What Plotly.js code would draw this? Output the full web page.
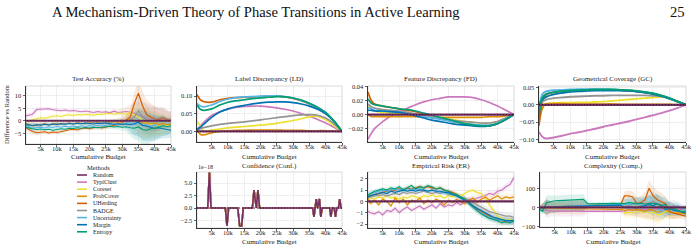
<!DOCTYPE html>
<html>
<head>
<meta charset="utf-8">
<script src="https://cdn.plot.ly/plotly-3.0.1.min.js"></script>
<style>
  html, body { margin: 0; padding: 0; background: #fff; }
  #chart { width: 699px; height: 250px; }
</style>
</head>
<body>
<div id="chart"></div>
<script>
// ---- methods and palette ----
const methods = ['Random', 'TypiClust', 'Coreset', 'ProbCover', 'UHerding', 'BADGE', 'Uncertainty', 'Margin', 'Entropy'];
const methodColors = ['#72305f', '#CC78BC', '#ECE133', '#DE8F05', '#D55E00', '#949494', '#56B4E9', '#0173B2', '#029E73'];

// ---- x grids (cumulative budget) ----
const budgetFine = [0, 1250, 2500, 3750, 5000, 6250, 7500, 8750, 10000, 11250, 12500, 13750, 15000, 16250, 17500, 18750, 20000, 21250, 22500, 23750, 25000, 26250, 27500, 28750, 30000, 31250, 32500, 33750, 35000, 36250, 37500, 38750, 40000, 41250, 42500, 43750, 45000];
const budgetSmooth = [500, 1500, 2500, 5000, 7500, 10000, 12500, 15000, 17500, 20000, 22500, 25000, 27500, 30000, 32500, 35000, 37500, 40000, 42500, 45000];
const budgetTicks = [5000, 10000, 15000, 20000, 25000, 30000, 35000, 40000, 45000];
const budgetTickText = ['5k', '10k', '15k', '20k', '25k', '30k', '35k', '40k', '45k'];

// ---- Test Accuracy (%), difference vs Random ----
const accTypiClust = [1.8, 2.2, 2.6, 4.5, 4.6, 5.0, 4.8, 4.4, 4.2, 4.0, 4.3, 3.9, 4.1, 3.8, 3.6, 3.9, 3.5, 3.3, 3.7, 3.4, 3.6, 3.2, 3.8, 3.3, 3.5, 3.7, 3.4, 3.0, 2.2, 1.6, 1.2, 0.8, 1.0, 0.4, 0.9, 0.5, 0.7];
const accCoreset = [-0.5, 0.0, 0.3, 0.8, 1.2, 1.0, 1.5, 1.8, 2.0, 1.7, 2.2, 2.4, 2.1, 2.5, 2.3, 2.6, 2.4, 2.2, 2.7, 2.5, 2.8, 3.0, 2.6, 3.1, 2.9, 2.7, 3.2, 2.5, 1.5, 0.2, -1.0, -1.5, -2.0, -1.6, -2.2, -1.8, -2.0];
const accProbCover = [-1.0, -1.5, -2.0, -1.8, -1.5, -1.2, -1.6, -1.3, -1.0, -1.4, -1.1, -0.9, -1.2, -0.8, -1.0, -1.3, -0.7, -0.9, -0.6, -0.8, -0.5, -0.7, -0.4, -0.6, -0.2, 0.3, 0.6, 0.2, -0.5, -1.0, -0.8, -1.2, -0.9, -1.5, -1.1, -1.6, -1.3];
const accUHerding = [-2.5, -3.5, -4.3, -4.8, -4.6, -4.4, -4.9, -4.5, -4.7, -4.2, -4.0, -3.6, -3.4, -3.7, -3.1, -2.9, -3.2, -2.8, -2.6, -2.9, -2.5, -2.2, -2.0, -1.5, -0.8, 0.2, 1.5, 7.0, 11.0, 6.0, 2.5, 1.5, 0.8, 0.5, 1.0, 0.6, 0.4];
const accBADGE = [-1.5, -2.0, -1.8, -1.5, -1.7, -1.3, -1.6, -1.2, -1.4, -1.1, -1.3, -1.0, -1.2, -0.9, -1.1, -0.8, -1.0, -0.7, -0.9, -0.6, -0.8, -0.5, -0.3, 0.0, 0.3, -0.5, 0.5, 1.5, 4.0, 1.5, 0.5, -0.2, 0.5, 1.2, 1.6, 0.8, 0.2];
const accUncertainty = [-2.0, -2.5, -3.0, -2.8, -2.6, -2.9, -2.4, -2.7, -2.3, -2.6, -2.2, -2.5, -2.1, -2.4, -2.0, -2.3, -1.9, -2.2, -1.8, -2.1, -1.7, -1.5, -1.3, -1.6, -1.2, -1.0, -0.8, -1.5, -1.0, -2.0, -1.5, -2.2, -1.8, -2.4, -2.0, -2.5, -2.2];
const accMargin = [-1.2, -1.5, -1.9, -1.6, -1.8, -1.4, -1.7, -1.3, -1.5, -1.2, -1.4, -1.1, -1.3, -1.0, -1.2, -0.9, -1.1, -1.3, -1.0, -1.2, -0.9, -1.1, -1.4, -1.2, -1.5, -1.3, -1.6, -1.2, -0.5, -1.8, -2.2, -2.5, -3.0, -2.8, -3.3, -3.5, -3.8];
const accEntropy = [-2.5, -3.0, -3.2, -3.5, -3.3, -3.6, -3.4, -3.8, -3.5, -3.2, -3.4, -3.0, -3.1, -2.8, -3.0, -2.7, -2.9, -2.6, -2.8, -2.5, -2.4, -2.2, -2.5, -2.3, -2.6, -2.4, -2.8, -3.0, -2.5, -3.5, -3.8, -3.2, -3.0, -2.5, -2.0, -2.3, -2.0];
const accSpread = [0.8, 1.0, 1.2, 1.0, 0.9, 0.8, 0.8, 0.7, 0.7, 0.7, 0.7, 0.7, 0.7, 0.7, 0.7, 0.7, 0.8, 0.8, 0.8, 0.8, 0.9, 0.9, 1.0, 1.2, 1.5, 2.0, 3.0, 4.5, 5.5, 6.0, 6.0, 5.5, 5.0, 4.5, 4.0, 3.5, 3.0];

// ---- Label Discrepancy (LD) ----
const ldTypiClust = [0.005, 0.015, 0.025, 0.045, 0.056, 0.063, 0.068, 0.071, 0.072, 0.072, 0.070, 0.067, 0.063, 0.058, 0.051, 0.043, 0.034, 0.024, 0.012, 0.0];
const ldCoreset = [0.030, 0.015, 0.0, 0.004, 0.007, 0.010, 0.012, 0.014, 0.016, 0.018, 0.020, 0.023, 0.027, 0.031, 0.036, 0.042, 0.043, 0.033, 0.017, 0.0];
const ldProbCover = [0.005, -0.008, -0.010, -0.004, 0.0, 0.002, 0.003, 0.003, 0.004, 0.004, 0.004, 0.004, 0.003, 0.003, 0.003, 0.002, 0.002, 0.002, 0.001, 0.0];
const ldUHerding = [0.105, 0.090, 0.085, 0.083, 0.090, 0.094, 0.096, 0.097, 0.098, 0.099, 0.100, 0.100, 0.098, 0.094, 0.087, 0.078, 0.067, 0.052, 0.030, 0.0];
const ldBADGE = [0.003, 0.008, 0.011, 0.016, 0.020, 0.023, 0.025, 0.027, 0.030, 0.033, 0.036, 0.039, 0.042, 0.045, 0.047, 0.048, 0.046, 0.038, 0.022, 0.0];
const ldUncertainty = [0.080, 0.072, 0.070, 0.075, 0.085, 0.092, 0.096, 0.098, 0.099, 0.100, 0.101, 0.101, 0.099, 0.095, 0.088, 0.079, 0.068, 0.053, 0.030, 0.0];
const ldMargin = [0.005, 0.012, 0.020, 0.040, 0.055, 0.064, 0.070, 0.074, 0.078, 0.081, 0.083, 0.084, 0.084, 0.082, 0.078, 0.072, 0.063, 0.050, 0.029, 0.0];
const ldEntropy = [0.075, 0.063, 0.060, 0.064, 0.075, 0.083, 0.087, 0.090, 0.093, 0.095, 0.097, 0.099, 0.098, 0.095, 0.089, 0.080, 0.069, 0.054, 0.030, 0.0];

// ---- Feature Discrepancy (FD) ----
const fdTypiClust = [-0.035, -0.027, -0.020, -0.010, -0.002, 0.004, 0.009, 0.014, 0.018, 0.021, 0.023, 0.025, 0.025, 0.025, 0.024, 0.021, 0.017, 0.012, 0.006, 0.0];
const fdCoreset = [0.012, 0.008, 0.005, 0.003, 0.002, 0.001, 0.0, -0.001, -0.003, -0.004, -0.005, -0.006, -0.008, -0.010, -0.011, -0.012, -0.012, -0.010, -0.005, 0.0];
const fdProbCover = [0.0, -0.003, -0.003, -0.003, -0.003, -0.003, -0.003, -0.003, -0.003, -0.004, -0.004, -0.004, -0.004, -0.004, -0.004, -0.004, -0.003, -0.003, -0.002, 0.0];
const fdUHerding = [0.032, 0.020, 0.015, 0.012, 0.010, 0.008, 0.006, 0.004, 0.001, -0.002, -0.005, -0.008, -0.011, -0.013, -0.015, -0.016, -0.016, -0.013, -0.007, 0.0];
const fdBADGE = [0.015, 0.011, 0.009, 0.007, 0.006, 0.005, 0.003, 0.001, -0.001, -0.003, -0.005, -0.007, -0.009, -0.010, -0.011, -0.012, -0.012, -0.010, -0.005, 0.0];
const fdUncertainty = [0.010, 0.008, 0.006, 0.005, 0.004, 0.003, 0.001, -0.001, -0.003, -0.005, -0.007, -0.009, -0.011, -0.013, -0.014, -0.015, -0.015, -0.012, -0.006, 0.0];
const fdMargin = [0.006, 0.006, 0.005, 0.005, 0.004, 0.003, 0.001, -0.002, -0.005, -0.008, -0.010, -0.012, -0.014, -0.015, -0.016, -0.017, -0.016, -0.013, -0.007, 0.0];
const fdEntropy = [0.022, 0.016, 0.014, 0.012, 0.010, 0.008, 0.007, 0.005, 0.002, -0.001, -0.004, -0.007, -0.010, -0.013, -0.015, -0.016, -0.016, -0.013, -0.007, 0.0];

// ---- Geometrical Coverage (GC) ----
const gcTypiClust = [-0.078, -0.092, -0.097, -0.094, -0.089, -0.083, -0.079, -0.074, -0.069, -0.063, -0.058, -0.053, -0.048, -0.042, -0.036, -0.030, -0.024, -0.017, -0.009, 0.0];
const gcCoreset = [-0.020, 0.0, 0.003, 0.005, 0.006, 0.006, 0.007, 0.007, 0.008, 0.009, 0.011, 0.013, 0.015, 0.017, 0.019, 0.021, 0.022, 0.019, 0.010, 0.0];
const gcProbCover = [-0.050, -0.010, 0.002, 0.003, 0.003, 0.002, 0.002, 0.002, 0.002, 0.002, 0.002, 0.001, 0.001, 0.001, 0.001, 0.001, 0.001, 0.001, 0.0, 0.0];
const gcUHerding = [-0.060, 0.010, 0.028, 0.036, 0.039, 0.041, 0.042, 0.043, 0.043, 0.043, 0.043, 0.042, 0.041, 0.039, 0.036, 0.032, 0.026, 0.018, 0.009, 0.0];
const gcBADGE = [-0.020, 0.008, 0.014, 0.019, 0.021, 0.023, 0.024, 0.025, 0.026, 0.026, 0.027, 0.027, 0.027, 0.027, 0.027, 0.026, 0.024, 0.018, 0.009, 0.0];
const gcUncertainty = [-0.010, 0.030, 0.038, 0.042, 0.043, 0.044, 0.045, 0.045, 0.045, 0.045, 0.044, 0.043, 0.041, 0.039, 0.036, 0.032, 0.026, 0.018, 0.009, 0.0];
const gcMargin = [0.0, 0.015, 0.022, 0.030, 0.034, 0.037, 0.039, 0.040, 0.041, 0.041, 0.041, 0.041, 0.040, 0.038, 0.035, 0.031, 0.025, 0.018, 0.009, 0.0];
const gcEntropy = [-0.030, 0.020, 0.030, 0.036, 0.039, 0.041, 0.042, 0.043, 0.044, 0.044, 0.044, 0.043, 0.042, 0.040, 0.037, 0.033, 0.027, 0.019, 0.009, 0.0];

// ---- Confidence (Conf.), in units of 1e-18; identical for every method ----
const confBudget = [500, 3800, 4300, 4800, 9200, 9700, 10200, 13000, 13600, 14200, 14700, 17500, 18000, 18500, 18700, 19200, 19700, 36000, 36400, 36750, 37100, 37500, 38100, 38500, 38900, 41200, 41600, 42000, 42600, 43000, 43400, 43900, 44300, 44700, 45000];
const confValue = [0, 0, 7.1, 0, 0, -3.6, 0, 0, -3.6, -3.6, 0, 0, 3.6, 0, 0, 3.6, 0, 0, -1.8, 0, 1.8, 0, 1.8, -1.8, 0, 0, -1.8, 0, 0, -1.8, 0, 0, 1.8, 0, 0];

// ---- Empirical Risk (ER) ----
const erTypiClust = [-0.8, -1.0, -1.1, -0.9, -1.2, -0.8, -0.9, -0.6, -1.0, -0.7, -0.5, -0.8, -0.6, -0.4, -0.7, -0.5, -0.3, -0.6, -0.2, -0.5, -0.3, -0.4, -0.1, -0.3, 0.0, 0.2, 0.1, 0.3, 0.4, 0.5, 0.7, 0.6, 0.9, 1.0, 1.3, 1.5, 2.1];
const erCoreset = [0.4, 0.3, 0.2, 0.4, 0.3, 0.5, 0.3, 0.4, 0.2, 0.4, 0.3, 0.5, 0.4, 0.3, 0.5, 0.4, 0.6, 0.4, 0.5, 0.3, 0.5, 0.4, 0.6, 0.5, 0.7, 0.9, 1.0, 0.8, 0.7, 0.3, -0.3, -0.8, -1.3, -1.5, -1.7, -1.6, -1.8];
const erProbCover = [0.5, -0.2, 0.1, -0.3, 0.2, 0.0, -0.4, 0.3, -0.1, 0.2, -0.3, 0.1, 0.0, 0.3, -0.2, 0.1, -0.1, 0.2, 0.0, -0.3, 0.1, -0.1, 0.2, 0.0, -0.2, 0.1, 0.3, -0.1, 0.2, 0.4, 0.1, 0.3, 0.5, 0.2, 0.4, 0.3, 0.4];
const erUHerding = [0.3, 0.5, 0.6, 0.7, 0.8, 0.9, 1.0, 1.0, 1.1, 1.0, 1.2, 1.1, 1.2, 1.3, 1.2, 1.3, 1.2, 1.1, 1.2, 1.0, 0.9, 0.8, 0.6, 0.4, 0.2, -0.1, -0.4, -0.7, -0.9, -1.1, -1.3, -1.5, -1.6, -1.7, -1.8, -1.7, -1.8];
const erBADGE = [0.3, 0.4, 0.5, 0.5, 0.6, 0.5, 0.6, 0.7, 0.6, 0.8, 0.7, 0.8, 0.7, 0.8, 0.9, 0.8, 0.7, 0.8, 0.7, 0.8, 0.6, 0.6, 0.5, 0.4, 0.3, 0.1, -0.1, -0.3, -0.5, -0.7, -0.9, -1.0, -1.1, -1.2, -1.3, -1.3, -1.4];
const erUncertainty = [0.5, 0.7, 0.8, 0.9, 1.0, 0.9, 1.0, 1.1, 1.0, 1.1, 1.0, 1.1, 1.0, 1.1, 1.0, 0.9, 1.0, 0.9, 0.8, 0.8, 0.7, 0.6, 0.5, 0.3, 0.1, -0.2, -0.5, -0.8, -1.0, -1.2, -1.4, -1.5, -1.6, -1.7, -1.7, -1.8, -1.8];
const erMargin = [0.3, 0.5, 0.6, 0.7, 0.8, 0.7, 0.9, 0.8, 0.9, 1.0, 0.9, 1.0, 0.9, 1.0, 1.0, 0.9, 1.0, 0.9, 0.9, 0.8, 0.8, 0.6, 0.5, 0.3, 0.1, -0.1, -0.4, -0.6, -0.8, -1.0, -1.2, -1.4, -1.5, -1.6, -1.7, -1.7, -1.7];
const erEntropy = [0.4, 0.7, 0.9, 1.0, 1.1, 1.0, 1.2, 1.1, 1.3, 1.0, 1.2, 1.4, 1.1, 1.3, 1.2, 1.4, 1.3, 1.1, 1.2, 1.0, 0.9, 0.7, 0.6, 0.4, 0.2, -0.2, -0.5, -0.8, -1.1, -1.3, -1.5, -1.6, -1.7, -1.9, -1.8, -1.9, -1.7];
const erSpread = [0.3, 0.25, 0.2, 0.2, 0.2, 0.2, 0.2, 0.2, 0.2, 0.2, 0.2, 0.2, 0.2, 0.2, 0.2, 0.2, 0.2, 0.2, 0.2, 0.2, 0.2, 0.2, 0.2, 0.2, 0.25, 0.25, 0.3, 0.3, 0.3, 0.3, 0.3, 0.3, 0.3, 0.3, 0.3, 0.3, 0.3];

// ---- Complexity (Comp.) ----
const compTypiClust = [0, 5, -15, -18, -20, -18, -20, -19, -20, -18, -20, -19, -20, -18, -19, -20, -18, -19, -20, -18, -19, -20, -10, -12, -15, -12, -10, -15, -12, -8, -10, -12, -8, -10, -12, -10, -8];
const compCoreset = [0, 0, 2, 3, 4, 5, 6, 7, 8, 9, 10, 11, 12, 12, 13, 13, 14, 14, 15, 15, 16, -30, -25, -28, -20, -25, -22, -30, -25, -40, -35, -20, -25, -30, -28, -30, -30];
const compProbCover = [0, 0, -2, -3, -4, -5, -5, -6, -6, -7, -7, -8, -8, -8, -9, -9, -9, -10, -10, -10, -10, -15, -12, -15, -10, -15, -20, -10, -15, -25, -20, -15, -25, -30, -28, -30, -32];
const compUHerding = [0, 0, 5, 3, 2, 4, 5, 6, 8, 8, 9, 10, 10, 10, 11, 11, 12, 12, 13, 13, 12, 60, 60, 55, 20, 25, 40, 100, 60, 40, 30, 20, -20, -30, -35, -40, -45];
const compBADGE = [0, 0, 2, 3, 4, 4, 5, 5, 6, 6, 7, 7, 8, 8, 9, 9, 10, 10, 11, 11, 12, 15, 10, 15, 20, 10, 15, 25, 30, 20, 15, 5, 0, 10, 0, -5, -10];
const compUncertainty = [0, 0, 2, 3, 4, 5, 6, 7, 8, 9, 10, 11, 12, 12, 13, 13, 14, 14, 15, 15, 16, 18, 15, 20, 18, 15, 10, 20, 5, 0, -20, -10, 0, -5, 10, -5, -10];
const compMargin = [0, -2, 0, 2, 3, 4, 5, 6, 6, 7, 8, 8, 9, 9, 10, 10, 10, 11, 11, 12, 12, 0, 2, 0, -2, 5, 10, 15, 10, 20, 5, -10, -5, -15, -20, -25, -30];
const compEntropy = [-5, -20, 25, 32, 35, 36, 37, 38, 38, 39, 40, 42, 20, 18, 19, 20, 19, 20, 21, 20, 21, 20, 25, 22, 20, 22, 18, 20, 22, 18, 10, 15, -10, -5, -15, -20, -20];
const compSpread = [5, 20, 40, 30, 28, 28, 28, 28, 28, 28, 28, 28, 10, 10, 10, 10, 10, 10, 10, 10, 10, 25, 30, 30, 35, 35, 40, 45, 50, 50, 45, 40, 35, 30, 25, 20, 20];

// ---- drawing helpers ----
const SERIF = 'Liberation Serif, DejaVu Serif, serif';
const W = 699, H = 250;
const px = v => v / W;           // horizontal pixel -> paper
const py = v => 1 - v / H;       // vertical pixel -> paper

function rgba(hex, a) {
  const n = parseInt(hex.slice(1), 16);
  return `rgba(${(n >> 16) & 255},${(n >> 8) & 255},${n & 255},${a})`;
}

const traces = [];

// one panel: shaded spread bands first, then method lines, Random on top
function addPanel(k, xs, series, spread, smooth, width) {
  const xa = k === 1 ? 'x' : 'x' + k;
  const ya = k === 1 ? 'y' : 'y' + k;
  const baseline = xs.map(() => 0);
  if (spread) {
    series.forEach((ys, i) => {
      const c = methodColors[i + 1];
      traces.push({ x: xs, y: ys.map((v, j) => v + spread[j]), xaxis: xa, yaxis: ya, mode: 'lines',
        line: { width: 0, color: c }, hoverinfo: 'skip', showlegend: false });
      traces.push({ x: xs, y: ys.map((v, j) => v - spread[j]), xaxis: xa, yaxis: ya, mode: 'lines',
        line: { width: 0, color: c }, fill: 'tonexty', fillcolor: rgba(c, 0.13), hoverinfo: 'skip', showlegend: false });
    });
  }
  series.forEach((ys, i) => {
    traces.push({ x: xs, y: ys, xaxis: xa, yaxis: ya, mode: 'lines', name: methods[i + 1], showlegend: false,
      line: { color: methodColors[i + 1], width: width, shape: smooth ? 'spline' : 'linear', smoothing: 0.8 } });
  });
  traces.push({ x: xs, y: baseline, xaxis: xa, yaxis: ya, mode: 'lines', name: methods[0], showlegend: false,
    line: { color: methodColors[0], width: 2.2 } });
  traces.push({ x: xs, y: baseline, xaxis: xa, yaxis: ya, mode: 'lines', showlegend: false, hoverinfo: 'skip',
    line: { color: '#3e1235', width: 1, dash: '1px,2px' } });
}

addPanel(1, budgetFine, [accTypiClust, accCoreset, accProbCover, accUHerding, accBADGE, accUncertainty, accMargin, accEntropy], accSpread, false, 1.2);
addPanel(2, budgetSmooth, [ldTypiClust, ldCoreset, ldProbCover, ldUHerding, ldBADGE, ldUncertainty, ldMargin, ldEntropy], null, true, 1.7);
addPanel(3, budgetSmooth, [fdTypiClust, fdCoreset, fdProbCover, fdUHerding, fdBADGE, fdUncertainty, fdMargin, fdEntropy], null, true, 1.7);
addPanel(4, budgetSmooth, [gcTypiClust, gcCoreset, gcProbCover, gcUHerding, gcBADGE, gcUncertainty, gcMargin, gcEntropy], null, true, 1.9);

// Confidence: every method produces the same curve; Random is drawn last
for (let i = methods.length - 1; i >= 0; i--) {
  traces.push({ x: confBudget, y: confValue, xaxis: 'x5', yaxis: 'y5', mode: 'lines', name: methods[i], showlegend: false,
    line: { color: i === 0 ? methodColors[0] : methodColors[i], width: i === 0 ? 1.5 : 1.6 } });
}
traces.push({ x: confBudget, y: confValue.map(() => 0), xaxis: 'x5', yaxis: 'y5', mode: 'lines', showlegend: false, hoverinfo: 'skip',
  line: { color: '#3e1235', width: 1, dash: '1px,2px' } });

addPanel(6, budgetFine, [erTypiClust, erCoreset, erProbCover, erUHerding, erBADGE, erUncertainty, erMargin, erEntropy], erSpread, false, 1.2);
addPanel(7, budgetFine, [compTypiClust, compCoreset, compProbCover, compUHerding, compBADGE, compUncertainty, compMargin, compEntropy], compSpread, false, 1.2);

// ---- axes ----
const tickFont = { family: SERIF, size: 6.5, color: '#222' };
function xAxis(l, r, anchor) {
  return { domain: [px(l), px(r)], anchor: anchor, range: [500, 45000], tickmode: 'array',
    tickvals: budgetTicks, ticktext: budgetTickText, ticks: 'outside', ticklen: 2.5, tickwidth: 0.7, tickcolor: '#222',
    ticklabelstandoff: -4,
    showline: true, linecolor: '#222', linewidth: 0.9, showgrid: true, gridcolor: '#e4e4e4', gridwidth: 0.6,
    zeroline: false, tickfont: tickFont, fixedrange: true };
}
function yAxis(top, bottom, anchor, range, vals, fmt) {
  return { domain: [py(bottom), py(top)], anchor: anchor, range: range, tickmode: 'array', tickvals: vals,
    tickformat: fmt, ticks: 'outside', ticklen: 2.5, tickwidth: 0.7, tickcolor: '#222',
    showline: true, linecolor: '#222', linewidth: 0.9, showgrid: true, gridcolor: '#e4e4e4', gridwidth: 0.6,
    zeroline: false, tickfont: tickFont, fixedrange: true };
}

const panels = [
  { l: 26, r: 171, t: 86, b: 144, title: 'Test Accuracy (%)' },
  { l: 197, r: 342, t: 86, b: 142, title: 'Label Discrepancy (LD)' },
  { l: 368, r: 514, t: 86, b: 142, title: 'Feature Discrepancy (FD)' },
  { l: 539, r: 686, t: 86, b: 142, title: 'Geometrical Coverage (GC)' },
  { l: 197, r: 342, t: 172, b: 228, title: 'Confidence (Conf.)' },
  { l: 368, r: 514, t: 172, b: 228, title: 'Empirical Risk (ER)' },
  { l: 540, r: 686, t: 172, b: 227, title: 'Complexity (Comp.)' }
];
const yConf = [
  [[-9.3, 13.9], [-5, 0, 5, 10], 'd'],
  [[-0.030, 0.129], [0, 0.05, 0.1], '.2f'],
  [[-0.039, 0.0405], [-0.02, 0, 0.02, 0.04], '.2f'],
  [[-0.107, 0.054], [-0.1, -0.05, 0, 0.05], '.2f'],
  [[-4.0, 7.2], [-2.5, 0, 2.5, 5], '.1f'],
  [[-2.35, 2.6], [-2, -1, 0, 1, 2], 'd'],
  [[-102, 185], [-100, 0, 100], 'd']
];

const layout = {
  width: W, height: H, margin: { l: 0, r: 0, t: 0, b: 0 },
  paper_bgcolor: '#fff', plot_bgcolor: '#fff', showlegend: false,
  font: { family: SERIF, color: '#222' },
  annotations: [], shapes: []
};

panels.forEach((p, i) => {
  const k = i + 1;
  const xk = k === 1 ? 'xaxis' : 'xaxis' + k;
  const yk = k === 1 ? 'yaxis' : 'yaxis' + k;
  const xid = k === 1 ? 'x' : 'x' + k;
  const yid = k === 1 ? 'y' : 'y' + k;
  layout[xk] = xAxis(p.l, p.r, yid);
  layout[yk] = yAxis(p.t, p.b, xid, yConf[i][0], yConf[i][1], yConf[i][2]);
  // light frame around each plotting area
  layout.shapes.push({ type: 'rect', xref: xid + ' domain', yref: yid + ' domain', x0: 0, x1: 1, y0: 0, y1: 1,
    line: { color: '#cfcfcf', width: 0.8 }, layer: 'below' });
  const row1 = p.t < 100;
  layout.annotations.push({ text: p.title, xref: 'paper', yref: 'paper', x: px((p.l + p.r) / 2), y: py(row1 ? 79 : 166),
    xanchor: 'center', yanchor: 'middle', showarrow: false, font: { family: SERIF, size: 7, color: '#222' } });
  layout.annotations.push({ text: 'Cumulative Budget', xref: 'paper', yref: 'paper', x: px((p.l + p.r) / 2),
    y: py(row1 ? 157 : 241.5), xanchor: 'center', yanchor: 'middle', showarrow: false, font: { family: SERIF, size: 7, color: '#222' } });
});

layout.annotations.push(
  { text: 'A Mechanism-Driven Theory of Phase Transitions in Active Learning', xref: 'paper', yref: 'paper',
    x: px(50), y: py(12), xanchor: 'left', yanchor: 'middle', showarrow: false, font: { family: SERIF, size: 14.6, color: '#111' } },
  { text: '25', xref: 'paper', yref: 'paper', x: px(687), y: py(12), xanchor: 'right', yanchor: 'middle',
    showarrow: false, font: { family: SERIF, size: 14.6, color: '#111' } },
  { text: 'Difference vs Random', xref: 'paper', yref: 'paper', x: px(7), y: py(115), textangle: -90,
    xanchor: 'center', yanchor: 'middle', showarrow: false, font: { family: SERIF, size: 6.5, color: '#222' } },
  { text: '1e\u221218', xref: 'paper', yref: 'paper', x: px(196), y: py(167), xanchor: 'left', yanchor: 'middle',
    showarrow: false, font: { family: SERIF, size: 6, color: '#222' } },
  { text: 'Methods', xref: 'paper', yref: 'paper', x: px(98), y: py(167), xanchor: 'center', yanchor: 'middle',
    showarrow: false, font: { family: SERIF, size: 6.5, color: '#222' } }
);

// legend block
methods.forEach((m, i) => {
  const yy = 175 + 7.1 * i;
  layout.shapes.push({ type: 'line', xref: 'paper', yref: 'paper', x0: px(77), x1: px(87), y0: py(yy), y1: py(yy),
    line: { color: methodColors[i], width: 1.6 } });
  layout.annotations.push({ text: m, xref: 'paper', yref: 'paper', x: px(91), y: py(yy), xanchor: 'left', yanchor: 'middle',
    showarrow: false, font: { family: SERIF, size: 6, color: '#222' } });
});

Plotly.newPlot('chart', traces, layout, { staticPlot: true, displayModeBar: false });
</script>
</body>
</html>
